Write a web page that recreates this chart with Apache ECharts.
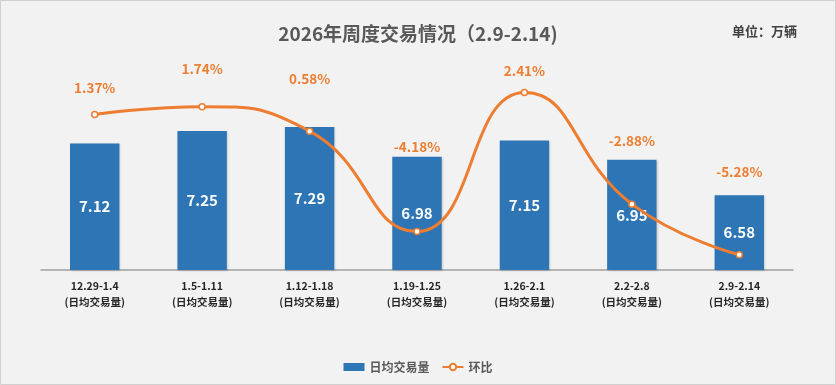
<!DOCTYPE html>
<html><head><meta charset="utf-8">
<script src="https://cdn.jsdelivr.net/npm/echarts@6/dist/echarts.min.js"></script>
<style>html,body{margin:0;padding:0;background:#fff}#c{width:836px;height:385px}</style>
</head><body><div id="c"></div>
<script>
const categories = ['12.29-1.4','1.5-1.11','1.12-1.18','1.19-1.25','1.26-2.1','2.2-2.8','2.9-2.14'];
const dailyVolume = [7.12, 7.25, 7.29, 6.98, 7.15, 6.95, 6.58];
const momChange = [1.37, 1.74, 0.58, -4.18, 2.41, -2.88, -5.28];
const subLabel = '(日均交易量)';
// label distance above each line point (style only)
const lineLabelDistance = [16, 27, 42, 74, 11, 53, 72];

const chart = echarts.init(document.getElementById('c'), null, {renderer:'canvas'});
const font = '"Noto Sans CJK SC","Noto Sans",sans-serif';
chart.setOption({
  backgroundColor: '#f2f2f2',
  textStyle: {fontFamily: font},
  graphic: [{type:'rect', shape:{x:0.5,y:0.5,width:835,height:384}, style:{fill:'none', stroke:'#d0d0d0', lineWidth:1}, silent:true}],
  title: [
    {text:'2026年周度交易情况（2.9-2.14)', left:'center', top:19, textStyle:{fontSize:19, fontWeight:'bold', color:'#595959', fontFamily:font}},
    {text:'单位：万辆', left:727, top:20, textStyle:{fontSize:13, fontWeight:'bold', color:'#404040', fontFamily:font}}
  ],
  legend: {
    bottom: 7, left:'center', itemGap: 12, itemWidth: 21, itemHeight: 8,
    textStyle:{fontSize:12, fontWeight:'bold', color:'#595959', fontFamily:font},
    data:[{name:'日均交易量', icon:'rect'}, {name:'环比'}]
  },
  grid: {left:41, right:43, top:59, height:211},
  xAxis: {
    type:'category', data: categories,
    axisLine:{onZero:false, lineStyle:{color:'#a0a0a0', width:1.5}},
    axisTick:{show:false},
    axisLabel:{
      interval:0, margin:8, lineHeight:16,
      formatter: v => v + '\n' + subLabel,
      fontSize:10.5, fontWeight:'bold', color:'#262626', fontFamily:font
    }
  },
  yAxis: [
    {type:'value', min:5.8, max:8.0, show:false, splitLine:{show:false}},
    {type:'value', min:-6, max:4, show:false, splitLine:{show:false}}
  ],
  series: [
    {
      name:'日均交易量', type:'bar', data: dailyVolume, barWidth:'46%',
      itemStyle:{color:'#2e75b6', shadowColor:'rgba(0,0,0,0.15)', shadowBlur:2, shadowOffsetX:1, shadowOffsetY:1},
      label:{show:true, position:'inside', color:'#fff', fontSize:15, fontWeight:'bold', fontFamily:font}
    },
    {
      name:'环比', type:'line', yAxisIndex:1, smooth:0.5,
      data: momChange.map((v,i)=>({value:v, label:{distance:lineLabelDistance[i]}})),
      symbol:'circle', symbolSize:6,
      lineStyle:{color:'#ed7d31', width:3},
      itemStyle:{color:'#fff', borderColor:'#ed7d31', borderWidth:1.5},
      label:{show:true, position:'top', formatter: p => p.value.toFixed(2) + '%', color:'#ed7d31', fontSize:13.5, fontWeight:'bold', fontFamily:font},
      z:5
    }
  ]
});
</script></body></html>
